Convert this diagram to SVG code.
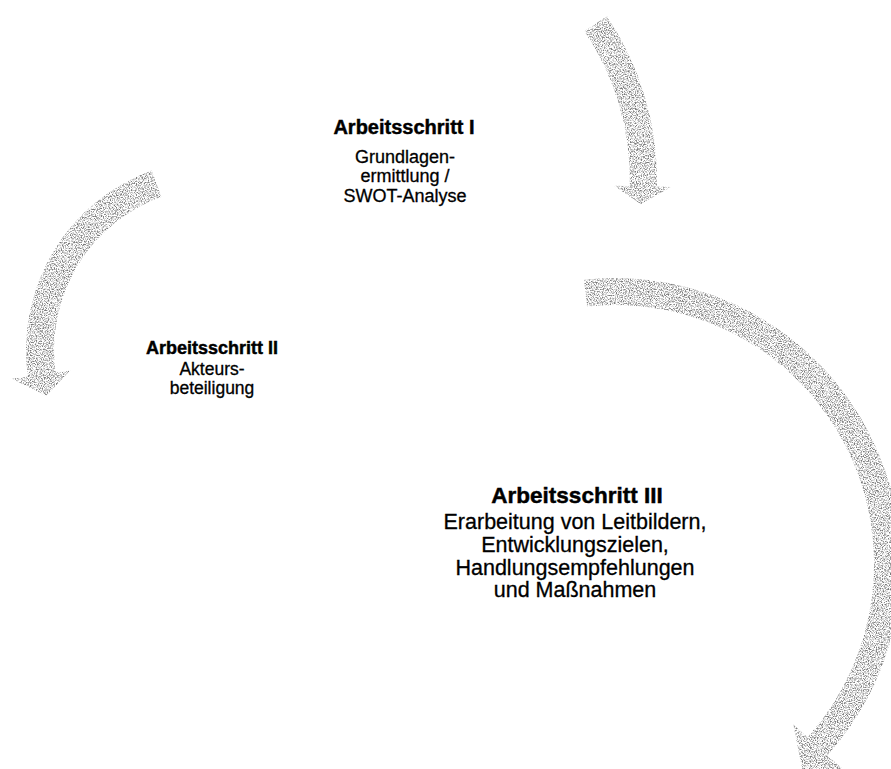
<svg xmlns="http://www.w3.org/2000/svg" width="891" height="769" viewBox="0 0 891 769">
<style>
  text { font-family: Tahoma, "Liberation Sans", "DejaVu Sans", sans-serif; fill: #000; stroke: #000; stroke-width: 0.3; text-anchor: middle; }
  .h { font-weight: bold; stroke-width: 0.45; }
  .arrow { fill: #000; filter: url(#grain); }
</style>
<defs>
  <filter id="grain" x="-5%" y="-5%" width="110%" height="110%" color-interpolation-filters="sRGB">
    <feTurbulence type="fractalNoise" baseFrequency="0.85" numOctaves="2" seed="7" result="noise"/>
    <feColorMatrix in="noise" type="matrix" values="0 0 0 0 0.48  0 0 0 0 0.48  0 0 0 0 0.48  3.4 0 0 0 -1.45" result="dots"/>
    <feComposite in="dots" in2="SourceGraphic" operator="in"/>
  </filter>
</defs>
<rect width="891" height="769" fill="#fff"/>
<g id="connectors">
  <path id="arrow-1" class="arrow" d="M 584.5 31.3 A 266 266 0 0 1 629.9 186.0 L 613.9 185.7 L 640.9 204.2 L 670.9 187.0 L 656.9 186.6 A 293 293 0 0 0 606.9 16.2 Z"/>
  <path id="arrow-2" class="arrow" d="M 151.7 170.5 A 191 191 0 0 0 27.9 376.6 L 12.0 378.8 L 46.0 395.8 L 70.4 370.6 L 55.6 372.7 A 163 163 0 0 1 161.3 196.8 Z"/>
  <path id="arrow-3" class="arrow" d="M 587.0 306.5 A 259 259 0 0 1 807.5 737.3 L 793.3 724.6 L 806 788 L 841.6 768.1 L 827.5 755.4 A 286 286 0 0 0 584.1 279.7 Z"/>
</g>
<g id="step-1">
  <text class="h" x="404" y="134" font-size="20">Arbeitsschritt I</text>
  <text x="405" y="163" font-size="18">Grundlagen-</text>
  <text x="405" y="182" font-size="18">ermittlung /</text>
  <text x="405" y="202" font-size="18">SWOT-Analyse</text>
</g>
<g id="step-2">
  <text class="h" x="212" y="354" font-size="18">Arbeitsschritt II</text>
  <text x="212" y="375" font-size="17.5">Akteurs-</text>
  <text x="212" y="394" font-size="17.5">beteiligung</text>
</g>
<g id="step-3">
  <text class="h" x="577" y="503" font-size="22.5">Arbeitsschritt III</text>
  <text x="575" y="529" font-size="21.5">Erarbeitung von Leitbildern,</text>
  <text x="575" y="552" font-size="21.5">Entwicklungszielen,</text>
  <text x="575" y="575" font-size="21.5">Handlungsempfehlungen</text>
  <text x="575" y="597" font-size="21.5">und Maßnahmen</text>
</g>
</svg>
